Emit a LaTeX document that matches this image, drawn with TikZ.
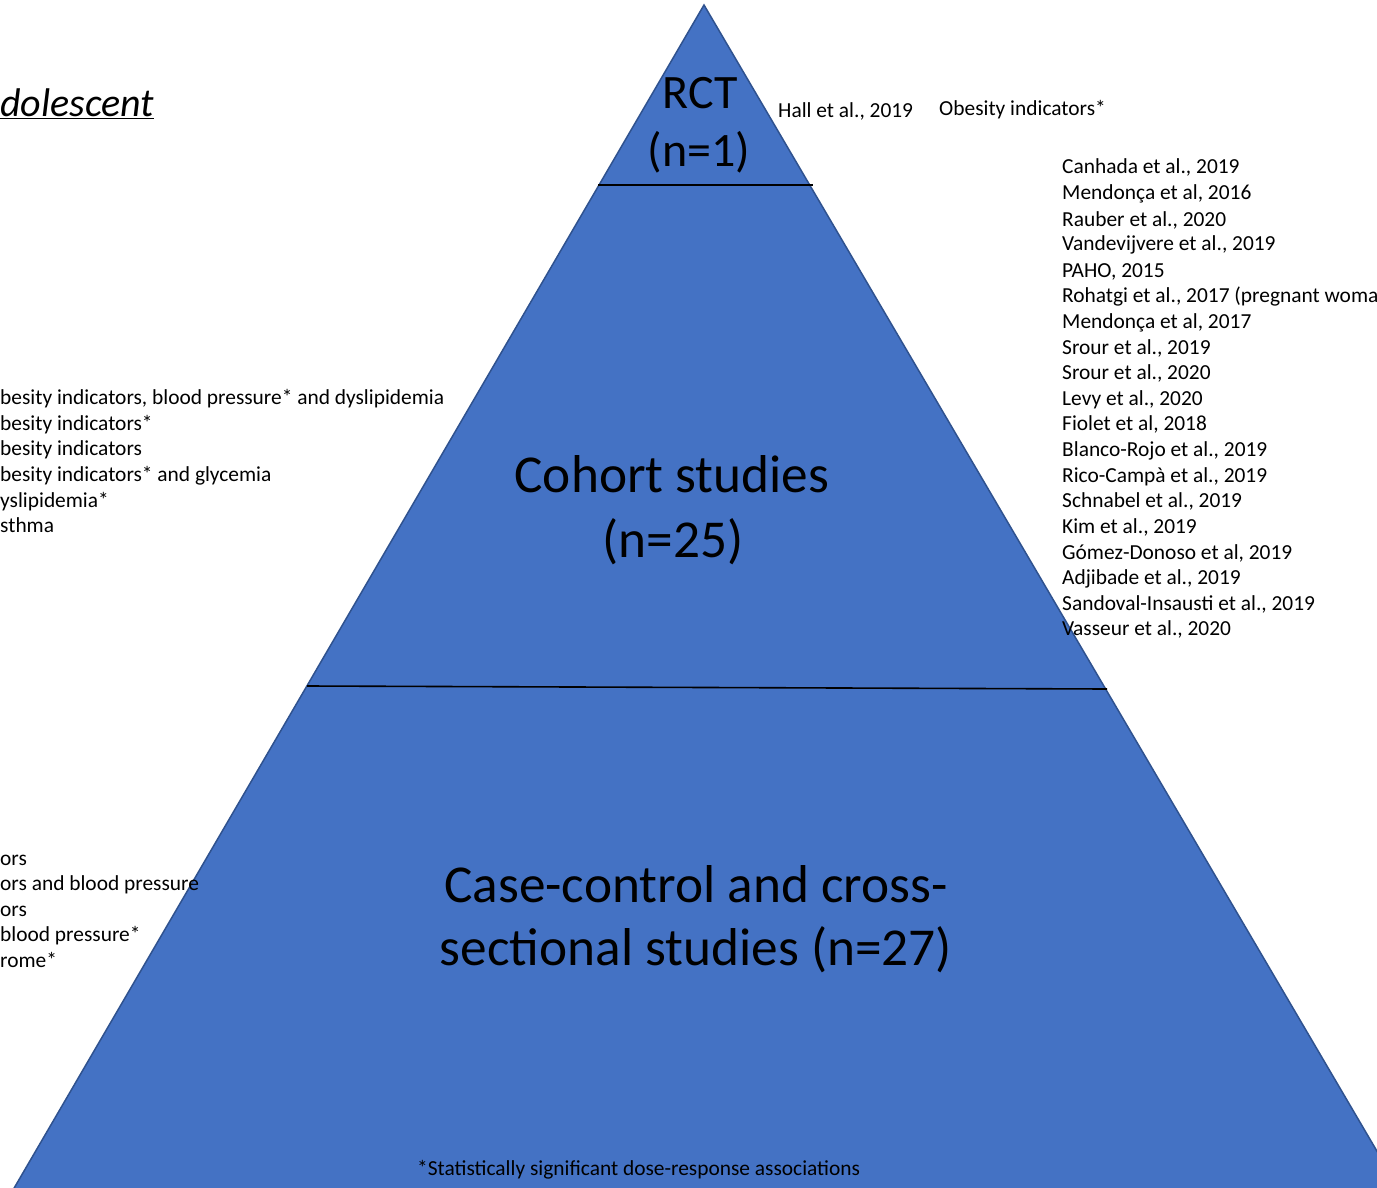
\documentclass[tikz,border=0pt]{standalone}
\usepackage{fontspec}
\setmainfont{Carlito}
\definecolor{pyrfill}{HTML}{4472C4}
\definecolor{pyredge}{HTML}{2F528F}
\begin{document}
\begin{tikzpicture}[x=1pt,y=-1pt,
  txt/.style={inner sep=0pt, font=\fontsize{21.4}{25}\selectfont, anchor=base west},
  level/.style={inner sep=0pt, font=\fontsize{53.3}{65}\selectfont, anchor=base},
  toplevel/.style={inner sep=0pt, font=\fontsize{48}{59}\selectfont, anchor=base},
  divider/.style={black, line width=1.6pt}]
\useasboundingbox (0,0) rectangle (1377,1188);
\clip (0,0) rectangle (1377,1188);
% pyramid
\fill[pyrfill, draw=pyredge, line width=1.5pt] (704,5) -- (1435,1250) -- (-22,1250) -- cycle;
\draw[divider] (598,185) -- (813,185);
\draw[divider] (307,686) -- (1107,689);
% level labels
\node[toplevel] (rct1) at (700,109) {RCT};
\node[toplevel] (rct2) at (699,167) {(n=1)};
\node[level] (coh1) at (672,492) {Cohort studies};
\node[level] (coh2) at (673,557) {(n=25)};
\node[level] (cc1) at (696,902) {Case-control and cross-};
\node[level] (cc2) at (696,965) {sectional studies (n=27)};
% heading
\node[inner sep=0pt, anchor=base west, font=\fontsize{40}{48}\selectfont\itshape] (head) at (0,117) {\underline{dolescent}};
% RCT refs
\node[txt] (hall) at (778,118) {Hall et al., 2019};
\node[txt] (hallo) at (939,116) {Obesity indicators*};
% cohort refs
\node[txt] (r1) at (1062,174) {Canhada et al., 2019};
\node[txt] (r2) at (1062,200) {Mendonça et al, 2016};
\node[txt] (r3) at (1062,226) {Rauber et al., 2020};
\node[txt] (r4) at (1062,251) {Vandevijvere et al., 2019};
\node[txt] (r5) at (1062,277) {PAHO, 2015};
\node[txt] (r6) at (1062,302) {Rohatgi et al., 2017 (pregnant woma};
\node[txt] (r7) at (1062,328) {Mendonça et al, 2017};
\node[txt] (r8) at (1062,354) {Srour et al., 2019};
\node[txt] (r9) at (1062,379) {Srour et al., 2020};
\node[txt] (r10) at (1062,405) {Levy et al., 2020};
\node[txt] (r11) at (1062,430) {Fiolet et al, 2018};
\node[txt] (r12) at (1062,456) {Blanco-Rojo et al., 2019};
\node[txt] (r13) at (1062,482) {Rico-Campà et al., 2019};
\node[txt] (r14) at (1062,507) {Schnabel et al., 2019};
\node[txt] (r15) at (1062,533) {Kim et al., 2019};
\node[txt] (r16) at (1062,559) {Gómez-Donoso et al, 2019};
\node[txt] (r17) at (1062,584) {Adjibade et al., 2019};
\node[txt] (r18) at (1062,610) {Sandoval-Insausti et al., 2019};
\node[txt] (r19) at (1062,635) {Vasseur et al., 2020};
% left outcomes (cohort)
\node[txt] (l1) at (0,404) {besity indicators, blood pressure* and dyslipidemia};
\node[txt] (l2) at (0,430) {besity indicators*};
\node[txt] (l3) at (0,455) {besity indicators};
\node[txt] (l4) at (0,481) {besity indicators* and glycemia};
\node[txt] (l5) at (0,507) {yslipidemia*};
\node[txt] (l6) at (0,532) {sthma};
% left outcomes (case-control)
\node[txt] (b1) at (0,865) {ors};
\node[txt] (b2) at (0,890) {ors and blood pressure};
\node[txt] (b3) at (0,916) {ors};
\node[txt] (b4) at (0,941) {blood pressure*};
\node[txt] (b5) at (0,967) {rome*};
% footnote
\node[txt] (foot) at (417,1175) {*Statistically significant dose-response associations};
\end{tikzpicture}
\end{document}
